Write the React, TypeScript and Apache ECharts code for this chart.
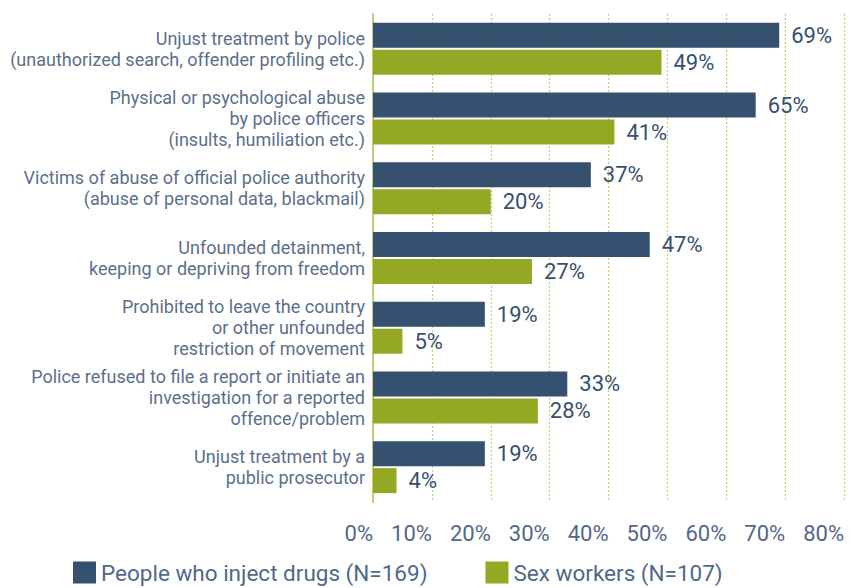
import React, { useEffect, useRef } from "react";
import * as echarts from "echarts";

const categories = [
  "Unjust treatment by police\n(unauthorized search, offender profiling etc.)",
  "Physical or psychological abuse\nby police officers\n(insults, humiliation etc.)",
  "Victims of abuse of official police authority\n(abuse of personal data, blackmail)",
  "Unfounded detainment,\nkeeping or depriving from freedom",
  "Prohibited to leave the country\nor other unfounded\nrestriction of movement",
  "Police refused to file a report or initiate an\ninvestigation for a reported\noffence/problem",
  "Unjust treatment by a\npublic prosecutor",
];
const drugUsers = [69, 65, 37, 47, 19, 33, 19];
const sexWorkers = [49, 41, 20, 27, 5, 28, 4];
const seriesNames = ["People who inject drugs (N=169)", "Sex workers (N=107)"];

const FONT = "Roboto";
const DARK = "#36506f";
const GREEN = "#95a824";
const TEXT = "#50688a";

export default function App() {
  const ref = useRef<HTMLDivElement>(null);
  useEffect(() => {
    if (!ref.current) return;
    const chart = echarts.init(ref.current, null, { renderer: "svg" });
    const label = {
      show: true,
      position: "right",
      distance: 12,
      formatter: "{c}%",
      fontFamily: FONT,
      fontSize: 22,
      color: DARK,
    };
    chart.setOption({
      animation: false,
      textStyle: { fontFamily: FONT },
      grid: { left: 373, right: 16, top: 14, bottom: 86, containLabel: false },
      legend: {
        left: 73,
        top: 561,
        padding: 0,
        itemWidth: 23,
        itemHeight: 22,
        itemGap: 58,
        icon: "rect",
        textStyle: { fontFamily: FONT, fontSize: 22.5, color: TEXT },
        data: seriesNames,
      },
      xAxis: {
        type: "value",
        min: 0,
        max: 80,
        interval: 10,
        axisLine: { show: false },
        axisTick: { show: false },
        axisLabel: {
          formatter: "{value}%",
          fontFamily: FONT,
          fontSize: 22,
          color: TEXT,
          margin: 20,
          align: "right",
        },
        splitLine: {
          show: true,
          lineStyle: { type: [2, 2], color: "#c2d174", width: 1.2 },
        },
      },
      yAxis: {
        type: "category",
        inverse: true,
        data: categories,
        axisLine: { show: true, lineStyle: { color: "#bfcc7a", width: 2 } },
        axisTick: { show: false },
        axisLabel: {
          fontFamily: FONT,
          fontSize: 18,
          lineHeight: 21,
          color: "#5b6f8c",
          margin: 8,
          align: "right",
        },
      },
      series: [
        {
          name: seriesNames[0],
          type: "bar",
          data: drugUsers,
          barWidth: 25,
          barGap: "8%",
          itemStyle: { color: DARK },
          label,
        },
        {
          name: seriesNames[1],
          type: "bar",
          data: sexWorkers,
          barWidth: 25,
          itemStyle: { color: GREEN },
          label,
        },
      ],
    });
    return () => chart.dispose();
  }, []);
  return <div ref={ref} style={{ width: 860, height: 588, position: "absolute", left: 0, top: 0 }} />;
}
